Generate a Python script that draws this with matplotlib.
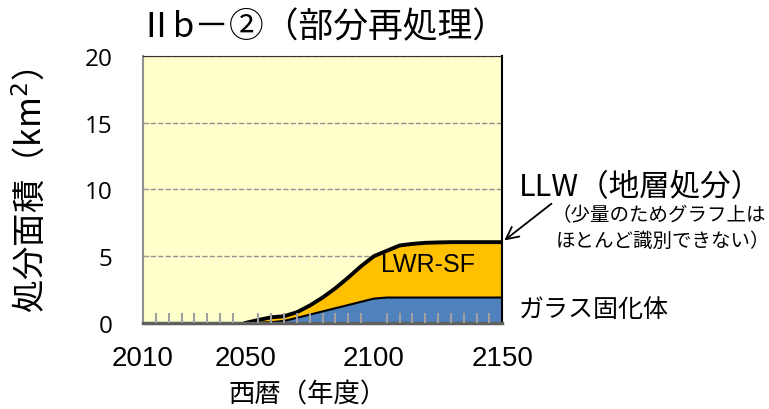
import matplotlib.pyplot as plt
import numpy as np

plt.rcParams['font.family'] = ['Noto Sans CJK JP', 'DejaVu Sans']

anos = list(range(2010, 2155, 5))
# ガラス固化体
vidro = [0, 0, 0, 0, 0, 0, 0, 0, 0, 0.02, 0.05, 0.15, 0.38, 0.62, 0.86, 1.1, 1.34,
         1.58, 1.82, 1.9, 1.9, 1.9, 1.9, 1.9, 1.9, 1.9, 1.9, 1.9, 1.9]
# LWR-SF
lwr_sf = [0, 0, 0, 0, 0, 0, 0, 0, 0, 0.17, 0.33, 0.3, 0.37, 0.63, 0.99, 1.45, 2.01,
          2.62, 3.13, 3.45, 3.85, 3.97, 4.05, 4.08, 4.1, 4.1, 4.1, 4.1, 4.1]
# LLW(地層処分) - ほとんど見えない
llw = [0, 0, 0, 0, 0, 0, 0, 0, 0, 0.03, 0.04, 0.05, 0.05, 0.05, 0.05, 0.05, 0.05,
       0.05, 0.05, 0.05, 0.05, 0.05, 0.05, 0.05, 0.05, 0.05, 0.05, 0.05, 0.05]

fig = plt.figure(figsize=(7.69, 4.10), dpi=100)
ax = fig.add_axes([0.186, 0.21, 0.467, 0.651])
ax.set_facecolor('#FFFFCC')

for g in [5, 10, 15, 20]:
    ax.axhline(g, color='#909090', linestyle='--', lw=1, zorder=1)

ax.stackplot(anos, vidro, lwr_sf, llw, colors=['#4F81BD', '#FFC000', 'black'],
             linewidth=0, zorder=2)
topo = np.array(vidro) + np.array(lwr_sf) + np.array(llw)
inicio = 8
ax.plot(anos[inicio:], vidro[inicio:], color='black', lw=1.5, zorder=3)
ax.plot(anos[inicio:], topo[inicio:], color='black', lw=2.8, zorder=3)
ax.plot([2150, 2150], [0, topo[-1]], color='black', lw=2, zorder=3)

ax.set_xlim(2010, 2150)
ax.set_ylim(0, 20)
ax.set_yticks([0, 5, 10, 15, 20])
ax.set_xticks([2010, 2050, 2100, 2150])
ax.set_xticks(range(2010, 2151, 5), minor=True)
ax.xaxis.set_zorder(5)

ax.tick_params(axis='x', which='major', length=0, labelsize=20, pad=16)
ax.tick_params(axis='x', which='minor', direction='in', length=7, color='#A0A0A0', width=1.5)
ax.tick_params(axis='y', direction='in', length=4, color='#A0A0A0', labelsize=17.5, pad=22)
for lb in ax.get_xticklabels():
    lb.set_family(['Liberation Sans', 'DejaVu Sans'])
for lb in ax.get_yticklabels():
    lb.set_family(['Open Sans', 'DejaVu Sans'])

ax.spines['left'].set_color('#909090')
ax.spines['left'].set_linewidth(1.5)
ax.spines['bottom'].set_color('#606060')
ax.spines['bottom'].set_linewidth(2.5)
ax.spines['top'].set_color('#303030')
ax.spines['right'].set_color('black')
ax.spines['right'].set_linewidth(1.5)
for s in ax.spines.values():
    s.set_zorder(4)

ax.set_title('Ⅱb－②（部分再処理）', fontsize=25, pad=14)
ax.set_ylabel('処分面積（km$^2$）', fontsize=24, labelpad=25)
ax.set_xlabel('西暦（年度）', fontsize=19)
ax.xaxis.set_label_coords(0.457, -0.215)

ax.text(2121, 4.4, 'LWR-SF', fontsize=18, ha='center', va='center',
        family=['Liberation Sans', 'DejaVu Sans'], zorder=4)

fig.text(0.675, 0.542, 'LLW（地層処分）', fontsize=22, va='center', ha='left')
fig.text(0.717, 0.475, '（少量のためグラフ上は', fontsize=14, va='center', ha='left')
fig.text(0.723, 0.41, 'ほとんど識別できない）', fontsize=14, va='center', ha='left')
fig.text(0.674, 0.245, 'ガラス固化体', fontsize=18, va='center', ha='left')
ax.annotate('', xy=(2150, topo[-1]), xytext=(0.72, 0.505), textcoords='figure fraction',
            arrowprops=dict(arrowstyle='->', color='black', lw=1.3, mutation_scale=22),
            annotation_clip=False)

fig.savefig('out.png', dpi=100)
